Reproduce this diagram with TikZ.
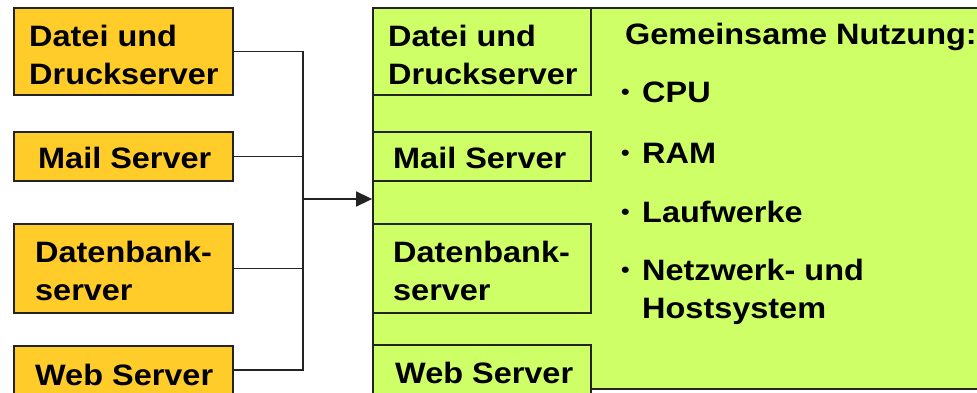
\documentclass[tikz,border=0pt]{standalone}
\usepackage{fontspec}
\setmainfont[FakeStretch=1.1]{Liberation Sans}
\usetikzlibrary{arrows.meta}
\definecolor{srvorange}{RGB}{255,204,41}
\definecolor{hostgreen}{RGB}{206,255,102}
\definecolor{edgegray}{RGB}{35,35,35}
\begin{document}
\begin{tikzpicture}[x=1pt,y=-1pt,
  box/.style={draw=edgegray, line width=1.8pt, inner sep=0pt},
  srvbox/.style={box, fill=srvorange, minimum width=219pt},
  vmbox/.style={box, fill=hostgreen, minimum width=218pt},
  lbl/.style={anchor=base west, inner sep=0pt, text=black,
    font=\bfseries\fontsize{29.5}{38}\selectfont},
  dot/.style={anchor=base west, inner sep=0pt, text=black,
    font=\bfseries\fontsize{22}{24}\selectfont},
  wire/.style={draw=edgegray, line width=1.6pt}]
\useasboundingbox (0,0) rectangle (977,392);
\fill[white] (0,0) rectangle (977,392);

% physical servers
\node[srvbox, minimum height=87pt] (l1) at (123.5,51.5) {};
\node[srvbox, minimum height=49pt] (l2) at (123.5,156.5) {};
\node[srvbox, minimum height=89pt] (l3) at (123.5,268.5) {};
\node[srvbox, minimum height=48pt] (l4) at (123.5,370) {};
\node[lbl] (l1a) at (29,46) {Datei und};
\node[lbl] (l1b) at (29,84) {Druckserver};
\node[lbl] (l2a) at (38,168) {Mail Server};
\node[lbl] (l3a) at (35,262) {Datenbank-};
\node[lbl] (l3b) at (35,300) {server};
\node[lbl] (l4a) at (35,385) {Web Server};

% host with virtual servers
\node[box, fill=hostgreen, minimum width=617pt, minimum height=381pt] (main) at (681.5,198.5) {};
\node[vmbox, minimum height=87pt] (r1) at (482,51.5) {};
\node[vmbox, minimum height=49pt] (r2) at (482,156.5) {};
\node[vmbox, minimum height=89pt] (r3) at (482,268.5) {};
\node[vmbox, minimum height=50pt] (r4) at (482,370) {};
\node[lbl] (r1a) at (388,46) {Datei und};
\node[lbl] (r1b) at (388,84) {Druckserver};
\node[lbl] (r2a) at (393,168) {Mail Server};
\node[lbl] (r3a) at (393,262) {Datenbank-};
\node[lbl] (r3b) at (393,300) {server};
\node[lbl] (r4a) at (395,383) {Web Server};

% shared resources
\node[lbl] (shared) at (625,44) {Gemeinsame Nutzung:};
\node[dot] (b1) at (621,99) {•};
\node[dot] (b2) at (621,160) {•};
\node[dot] (b3) at (621,219) {•};
\node[dot] (b4) at (621,277) {•};
\node[lbl] (cpu) at (642,102) {CPU};
\node[lbl] (ram) at (642,163) {RAM};
\node[lbl] (drv) at (642,222) {Laufwerke};
\node[lbl] (net) at (642,280) {Netzwerk- und};
\node[lbl] (hst) at (642,318) {Hostsystem};

% consolidation connectors
\coordinate (bus) at (303,199);
\draw[wire] (l1.east) -| (bus);
\draw[wire] (l2.east) -| (bus);
\draw[wire] (l3.east) -| (bus);
\draw[wire] (l4.east) -| (bus);
\draw[wire, -{Triangle[length=16pt,width=15pt]}] (bus) -- (bus -| main.west);
\end{tikzpicture}
\end{document}
